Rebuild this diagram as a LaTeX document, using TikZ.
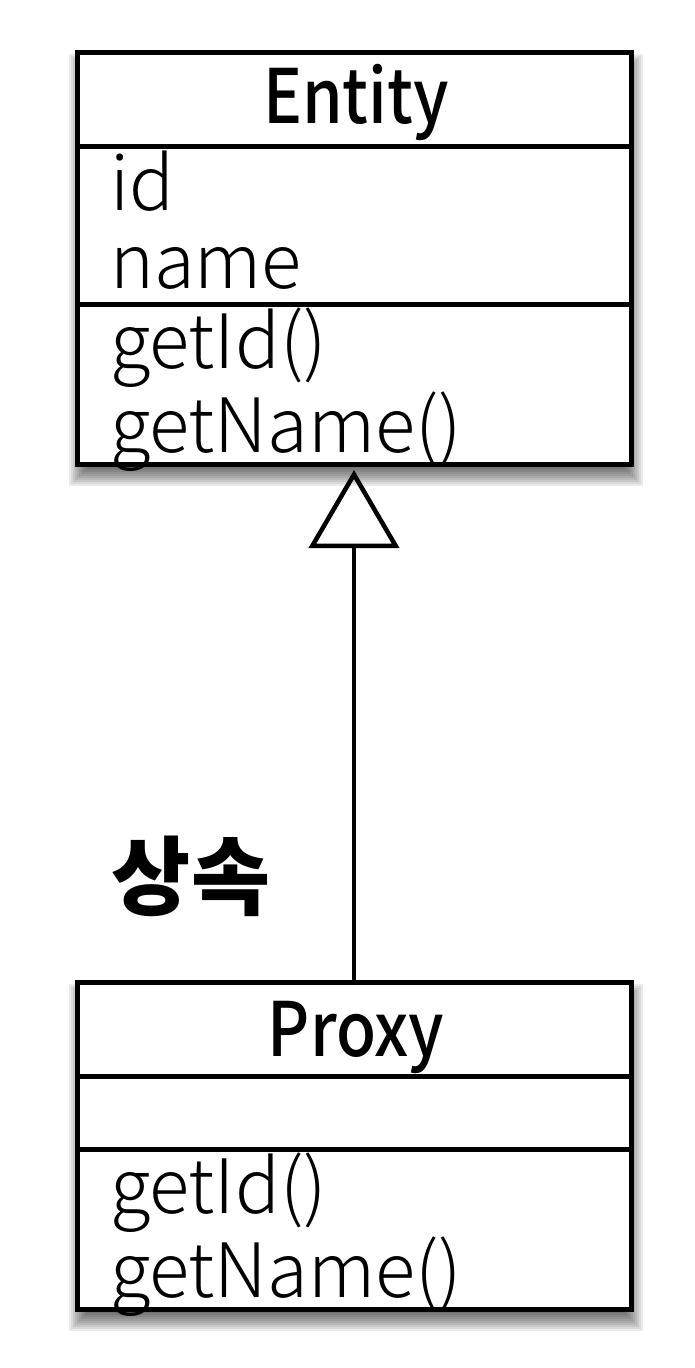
\documentclass[tikz,border=0pt]{standalone}
\usepackage{graphicx}
\usepackage{fontspec}
\setmainfont{Noto Sans CJK KR}
\IfFontExistsTF{Noto Sans CJK KR Light}
  {\newfontfamily\bodyfont{Noto Sans CJK KR Light}}
  {\newfontfamily\bodyfont{Noto Sans CJK KR}}
\IfFontExistsTF{Noto Sans CJK KR Medium}
  {\newfontfamily\titlefont{Noto Sans CJK KR Medium}}
  {\newfontfamily\titlefont{Noto Sans CJK KR}[FakeBold=1]}
\usetikzlibrary{arrows.meta}
\newcommand{\umlshadow}[4]{%
  \foreach \s in {-10,-8,...,12}{%
    \fill[black,opacity=0.08] ({#1+\s+2},{#2+\s+12}) rectangle ({#3-\s+2},{#4-\s+12});}}
\newcommand{\bodytxt}[1]{\scalebox{0.99}[1]{#1}}
\newcommand{\titletxt}[1]{\scalebox{0.87}[1]{#1}}
\begin{document}
\begin{tikzpicture}[x=1pt,y=-1pt,
  umlbox/.style={draw=black, line width=5pt, fill=white, minimum width=554pt,
    anchor=north west, inner sep=0pt, outer sep=0pt},
  divider/.style={line width=5pt},
  bodytext/.style={font=\bodyfont\fontsize{75}{80}\selectfont, anchor=base west, inner sep=0pt},
  titletext/.style={font=\titlefont\fontsize{75}{80}\selectfont, anchor=base, inner sep=0pt},
  labeltext/.style={font=\fontsize{86}{86}\selectfont\bfseries, inner sep=0pt},
  inherit/.style={line width=4.5pt, -{Triangle[open, length=78pt, width=90pt]}, shorten >=6pt}
]
\useasboundingbox (0,0) rectangle (694,1368);
% shadows
\umlshadow{77}{52}{631}{464}
\umlshadow{77}{982}{631}{1309}
% Entity class
\node[umlbox, minimum height=412pt] (entity) at (77,52) {};
\draw[divider] (entity.west |- 0,146) -- (entity.east |- 0,146);
\draw[divider] (entity.west |- 0,304) -- (entity.east |- 0,304);
\node[titletext] (etitle) at (356,123) {\titletxt{Entity}};
\node[bodytext] (eid) at (110,210) {\bodytxt{id}};
\node[bodytext] (ename) at (110,288) {\bodytxt{name}};
\node[bodytext] (egetid) at (110,368) {\bodytxt{getId()}};
\node[bodytext] (egetname) at (110,452) {\bodytxt{getName()}};
% Proxy class
\node[umlbox, minimum height=327pt] (proxy) at (77,982) {};
\draw[divider] (proxy.west |- 0,1076) -- (proxy.east |- 0,1076);
\draw[divider] (proxy.west |- 0,1149) -- (proxy.east |- 0,1149);
\node[titletext] (ptitle) at (356,1056) {\titletxt{Proxy}};
\node[bodytext] (pgetid) at (110,1213) {\bodytxt{getId()}};
\node[bodytext] (pgetname) at (110,1297) {\bodytxt{getName()}};
% inheritance
\draw[inherit] (proxy.north) -- (entity.south);
\node[labeltext] (lbl) at (191,876) {상속};
\end{tikzpicture}
\end{document}
